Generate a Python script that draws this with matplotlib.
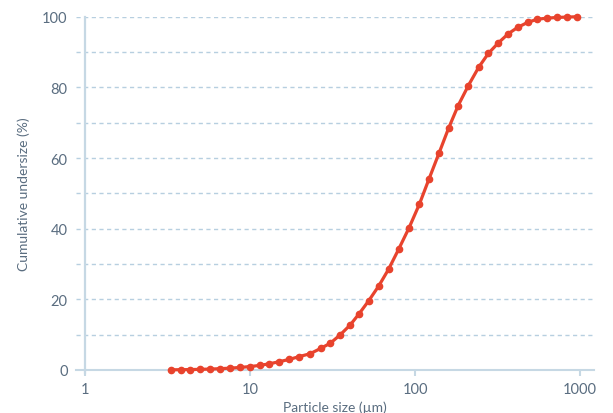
import matplotlib
matplotlib.use("Agg")
import matplotlib.pyplot as plt
from matplotlib.ticker import FixedLocator, NullLocator, FixedFormatter

# particle size (um) and cumulative undersize (%)
sizes = [3.32, 3.80, 4.35, 4.98, 5.72, 6.61, 7.56, 8.70, 10.0, 11.45,
         13.09, 15.05, 17.3, 19.9, 23.1, 26.8, 30.7, 35.1, 40.4, 45.8,
         52.4, 60.3, 69.1, 79.6, 91.9, 106.2, 121.6, 139.8, 159.6, 182.3,
         210.4, 243.2, 278.1, 319.9, 367.8, 419.3, 482.0, 551.0, 633.7, 728.6,
         837.6, 959.0]
undersize = [0.05, 0.08, 0.12, 0.18, 0.26, 0.37, 0.52, 0.72, 0.97, 1.3,
             1.75, 2.35, 3.0, 3.8, 4.6, 6.1, 7.6, 9.9, 12.7, 15.9,
             19.6, 23.8, 28.5, 34.2, 40.2, 46.9, 54.1, 61.4, 68.4, 74.8,
             80.5, 85.7, 89.6, 92.6, 95.2, 97.0, 98.4, 99.3, 99.6, 99.8,
             99.9, 100.0]
x_ticks = [1, 10, 100, 1000]
x_tick_labels = ["1", "10", "100", "1000"]
y_ticks = [0, 20, 40, 60, 80, 100]
y_grid = [10, 20, 30, 40, 50, 60, 70, 80, 90, 100]

plt.rcParams['font.family'] = ['Lato', 'DejaVu Sans']

text_col = '#5a6d80'
axis_col = '#c6d8e4'
grid_col = '#b7cfe0'
line_col = '#e8432d'

fig = plt.figure(figsize=(6.13, 4.14), dpi=100)
ax = fig.add_axes([0.124, 0.1039, 0.845, 0.8533])

ax.set_xscale('log')
ax.set_xlim(0.882, 1215)
ax.set_ylim(0, 100)

# horizontal dashed grid
for g in y_grid:
    ax.axhline(g, color=grid_col, lw=1.0, ls=(0, (3, 2.5)), zorder=1)

# vertical axis line at x = 1
ax.plot([1, 1], [-0.8, 100], color=axis_col, lw=1.6, zorder=2, clip_on=False)

ax.plot(sizes, undersize, color=line_col, lw=2.3, marker='o', markersize=4.5,
        zorder=3, clip_on=False)

for s in ['top', 'right', 'left']:
    ax.spines[s].set_visible(False)
ax.spines['bottom'].set_color(axis_col)
ax.spines['bottom'].set_linewidth(1.5)

ax.xaxis.set_major_locator(FixedLocator(x_ticks))
ax.xaxis.set_major_formatter(FixedFormatter(x_tick_labels))
ax.xaxis.set_minor_locator(NullLocator())
ax.set_yticks(y_ticks)
ax.tick_params(axis='x', colors=axis_col, labelcolor=text_col, length=4,
               width=1.5, labelsize=10.5, pad=5)
ax.tick_params(axis='y', length=0, labelcolor=text_col, labelsize=10.5, pad=6)

ax.set_xlabel('Particle size (µm)', color=text_col, fontsize=10, labelpad=3)
ax.set_ylabel('Cumulative undersize (%)', color=text_col, fontsize=10, labelpad=9)

fig.savefig('out.png', dpi=100)
plt.close(fig)
